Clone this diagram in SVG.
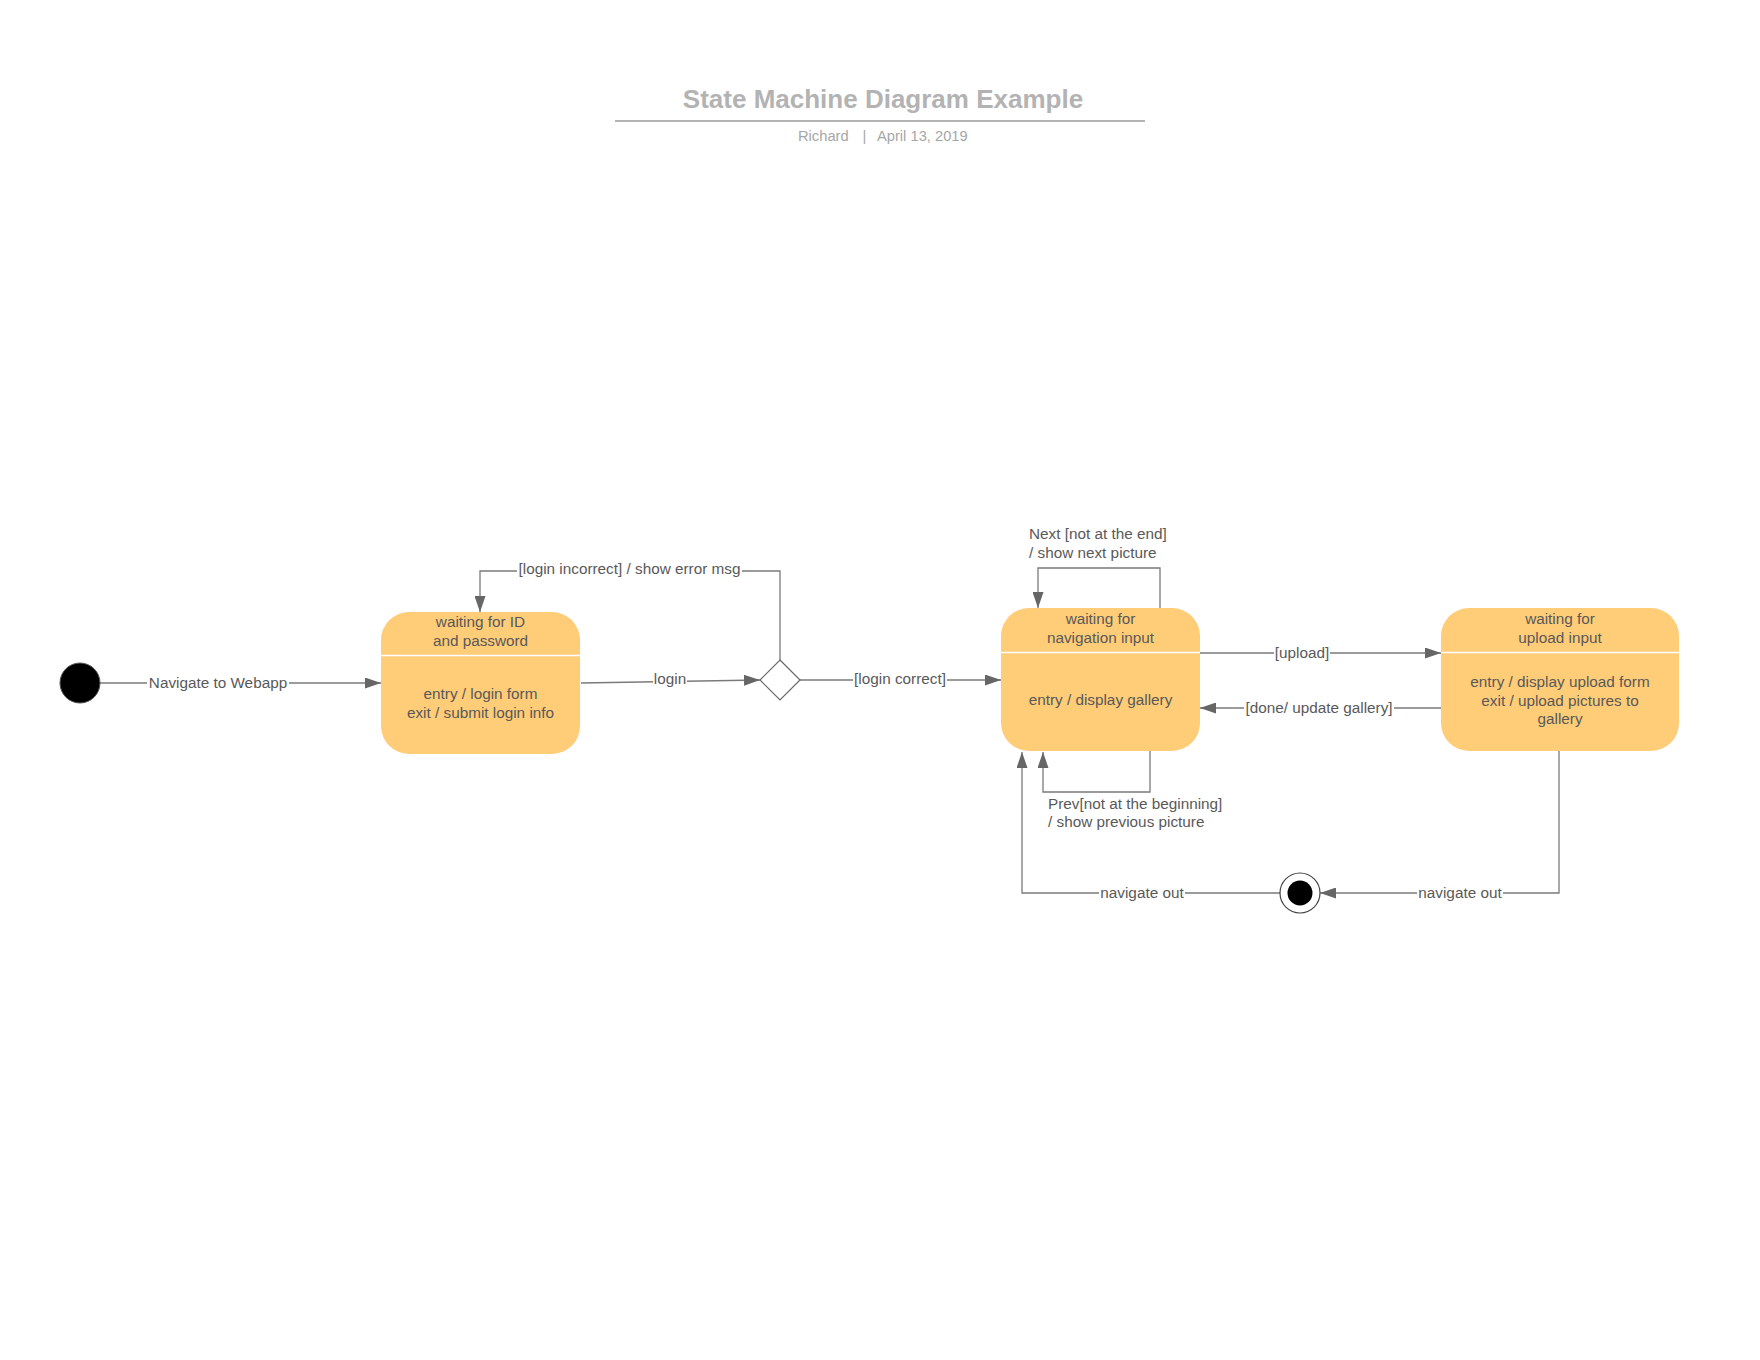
<svg xmlns="http://www.w3.org/2000/svg" width="1760" height="1360" viewBox="0 0 1760 1360">
  <style>
    text { font-family: "Liberation Sans", Arial, sans-serif; }
    .title { font-size: 26px; font-weight: bold; fill: #b3b3b3; }
    .sub { font-size: 14.7px; fill: #a6a6a6; }
    .st { fill: #ffcc78; stroke: none; }
    .div { stroke: #ffffff; stroke-width: 1.5; }
    .t { font-size: 15.3px; fill: #595959; text-anchor: middle; }
    .lbl { font-size: 15.3px; fill: #595959; text-anchor: middle; }
    .lbll { font-size: 15.3px; fill: #595959; }
    .bg { fill: #ffffff; stroke: none; }
    .ca { fill: none; stroke: #7a7a7a; stroke-width: 1.3; marker-end: url(#arr); }
  </style>
  <defs>
    <marker id="arr" markerUnits="userSpaceOnUse" markerWidth="16" markerHeight="11" refX="16" refY="5.5" orient="auto">
      <path d="M0,0 L16,5.5 L0,11 Z" fill="#666666"/>
    </marker>
  </defs>
  <rect width="1760" height="1360" fill="#ffffff"/>

  <g id="title">
    <text class="title" x="883" y="108" text-anchor="middle">State Machine Diagram Example</text>
    <line x1="615" y1="121" x2="1145" y2="121" stroke="#b3b3b3" stroke-width="1.8"/>
    <text class="sub" x="798" y="141">Richard</text>
    <text class="sub" x="862.5" y="141">|</text>
    <text class="sub" x="877" y="141">April 13, 2019</text>
  </g>

  <g id="connectors">
    <line class="ca" x1="100" y1="683" x2="381" y2="683"/>
    <line class="ca" x1="581" y1="683" x2="760" y2="680"/>
    <polyline class="ca" points="780,660 780,571 480,571 480,612"/>
    <line class="ca" x1="800" y1="680" x2="1001" y2="680"/>
    <polyline class="ca" points="1160,608 1160,568 1038,568 1038,608"/>
    <line class="ca" x1="1200" y1="653" x2="1441" y2="653"/>
    <line class="ca" x1="1441" y1="708" x2="1200" y2="708"/>
    <polyline class="ca" points="1150,751 1150,792 1043,792 1043,752"/>
    <polyline class="ca" points="1559,751 1559,893 1320,893"/>
    <polyline class="ca" points="1280,893 1022,893 1022,752"/>

    <rect class="bg" x="147" y="675" width="142" height="16"/>
    <rect class="bg" x="653" y="673" width="34" height="16"/>
    <rect class="bg" x="517" y="563" width="225" height="16"/>
    <rect class="bg" x="853" y="672" width="94" height="16"/>
    <rect class="bg" x="1274" y="645" width="56" height="16"/>
    <rect class="bg" x="1244" y="700" width="150" height="16"/>
    <rect class="bg" x="1417" y="885" width="86" height="16"/>
    <rect class="bg" x="1099" y="885" width="86" height="16"/>

    <text class="lbl" x="218" y="688">Navigate to Webapp</text>
    <text class="lbl" x="670" y="684">login</text>
    <text class="lbl" x="629.5" y="574">[login incorrect] / show error msg</text>
    <text class="lbl" x="900" y="684">[login correct]</text>
    <text class="lbll" x="1029" y="539">Next [not at the end]</text>
    <text class="lbll" x="1029" y="557.5">/ show next picture</text>
    <text class="lbl" x="1302" y="658">[upload]</text>
    <text class="lbl" x="1319" y="713">[done/ update gallery]</text>
    <text class="lbll" x="1048" y="808.5">Prev[not at the beginning]</text>
    <text class="lbll" x="1048" y="827">/ show previous picture</text>
    <text class="lbl" x="1460" y="898">navigate out</text>
    <text class="lbl" x="1142" y="898">navigate out</text>
  </g>

  <g id="initial">
    <circle cx="80" cy="683" r="20" fill="#000000" stroke="#555555" stroke-width="1"/>
  </g>

  <g id="state-login">
    <rect class="st" x="381" y="612" width="199" height="142" rx="28" ry="28"/>
    <line class="div" x1="381" y1="655.5" x2="580" y2="655.5"/>
    <text class="t" x="480.5" y="627">waiting for ID</text>
    <text class="t" x="480.5" y="646">and password</text>
    <text class="t" x="480.5" y="699">entry / login form</text>
    <text class="t" x="480.5" y="718">exit / submit login info</text>
  </g>

  <g id="decision">
    <polygon points="780,660 800,680 780,700 760,680" fill="#ffffff" stroke="#666666" stroke-width="1.2"/>
  </g>

  <g id="state-nav">
    <rect class="st" x="1001" y="608" width="199" height="143" rx="28" ry="28"/>
    <line class="div" x1="1001" y1="652.5" x2="1200" y2="652.5"/>
    <text class="t" x="1100.5" y="624">waiting for</text>
    <text class="t" x="1100.5" y="642.5">navigation input</text>
    <text class="t" x="1100.5" y="705">entry / display gallery</text>
  </g>

  <g id="state-upload">
    <rect class="st" x="1441" y="608" width="238" height="143" rx="28" ry="28"/>
    <line class="div" x1="1441" y1="652.5" x2="1679" y2="652.5"/>
    <text class="t" x="1560" y="624">waiting for</text>
    <text class="t" x="1560" y="643">upload input</text>
    <text class="t" x="1560" y="687">entry / display upload form</text>
    <text class="t" x="1560" y="705.5">exit / upload pictures to</text>
    <text class="t" x="1560" y="724">gallery</text>
  </g>

  <g id="final">
    <circle cx="1300" cy="893" r="20" fill="#ffffff" stroke="#444444" stroke-width="1.2"/>
    <circle cx="1300" cy="893" r="12.5" fill="#000000"/>
  </g>
</svg>
